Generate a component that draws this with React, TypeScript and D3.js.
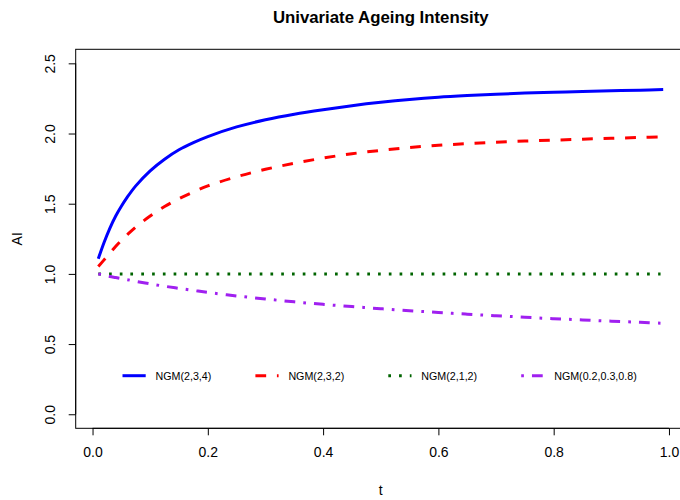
import React, { useEffect, useRef } from 'react';
import * as d3 from 'd3';

const tValues = [0.01, 0.02, 0.03, 0.04, 0.05, 0.06, 0.075, 0.1, 0.125, 0.15, 0.175, 0.2, 0.25, 0.3, 0.35, 0.4, 0.45, 0.5, 0.55, 0.6, 0.65, 0.7, 0.75, 0.8, 0.85, 0.9, 0.95, 0.99];
const ngm234 = [1.108, 1.224, 1.325, 1.411, 1.482, 1.545, 1.627, 1.734, 1.817, 1.884, 1.935, 1.978, 2.047, 2.098, 2.138, 2.170, 2.198, 2.222, 2.242, 2.258, 2.27, 2.28, 2.288, 2.294, 2.299, 2.304, 2.309, 2.313];
const ngm232 = [1.052, 1.10, 1.148, 1.195, 1.238, 1.278, 1.334, 1.412, 1.48, 1.536, 1.584, 1.627, 1.692, 1.745, 1.788, 1.825, 1.856, 1.88, 1.90, 1.916, 1.928, 1.938, 1.946, 1.953, 1.96, 1.966, 1.972, 1.976];
const ngm212 = [1, 1, 1, 1, 1, 1, 1, 1, 1, 1, 1, 1, 1, 1, 1, 1, 1, 1, 1, 1, 1, 1, 1, 1, 1, 1, 1, 1];
const ngmSmall = [1.0, 0.991, 0.982, 0.974, 0.966, 0.959, 0.947, 0.929, 0.912, 0.897, 0.882, 0.868, 0.843, 0.821, 0.801, 0.783, 0.767, 0.752, 0.738, 0.725, 0.713, 0.702, 0.691, 0.681, 0.672, 0.663, 0.655, 0.648];
const seriesNames = ['NGM(2,3,4)', 'NGM(2,3,2)', 'NGM(2,1,2)', 'NGM(0.2,0.3,0.8)'];
const xTicks = [0, 0.2, 0.4, 0.6, 0.8, 1.0];
const yTicks = [0, 0.5, 1.0, 1.5, 2.0, 2.5];

const u = 2.69; // dash unit (R lty scaled by lwd)
const styles = [
  { color: '#0000FF', dash: null },
  { color: '#FF0000', dash: `${4 * u},${4 * u}` },
  { color: '#006400', dash: `${u},${3 * u}` },
  { color: '#A020F0', dash: `${u},${3 * u},${4 * u},${3 * u}` },
];

const font = '"Liberation Sans", Arial, Helvetica, sans-serif';

const App = () => {
  const xAxisRef = useRef<SVGGElement>(null);
  const yAxisRef = useRef<SVGGElement>(null);

  const left = 75.7, right = 685.8, top = 49.3, bottom = 428.3;
  const x = d3.scaleLinear().domain([-0.0292, 1.0292]).range([left, right]);
  const y = d3.scaleLinear().domain([-0.1, 2.6]).range([bottom, top]);

  const allSeries = [ngm234, ngm232, ngm212, ngmSmall];
  const line = d3.line<number>()
    .x((_, i) => x(tValues[i]))
    .y(d => y(d))
    .curve(d3.curveCatmullRom.alpha(0.5));

  useEffect(() => {
    const gx = d3.select(xAxisRef.current);
    gx.selectAll('*').remove();
    gx.call(d3.axisBottom(x).tickValues(xTicks).tickSize(7).tickFormat(d3.format('.1f')));
    gx.select('.domain').attr('d', `M${x(0)},0H${x(1)}`).attr('stroke', '#000');
    gx.selectAll('.tick line').attr('stroke', '#000');
    gx.selectAll('.tick text')
      .attr('y', 29).attr('dy', 0)
      .style('font-size', '14px').style('font-family', font).attr('fill', '#000');

    const gy = d3.select(yAxisRef.current);
    gy.selectAll('*').remove();
    gy.call(d3.axisLeft(y).tickValues(yTicks).tickSize(7).tickFormat(d3.format('.1f')));
    gy.select('.domain').attr('d', `M0,${y(0)}V${y(2.5)}`).attr('stroke', '#000');
    gy.selectAll('.tick line').attr('stroke', '#000');
    gy.selectAll('.tick text')
      .attr('transform', 'rotate(-90)')
      .attr('x', 0).attr('y', -21).attr('dy', 0)
      .attr('text-anchor', 'middle')
      .style('font-size', '14px').style('font-family', font).attr('fill', '#000');
  }, []);

  const legendY = 375.7;
  const legendStarts = [122.5, 255.4, 388.3, 521.2];

  return (
    <svg width={680} height={500} style={{ position: 'absolute', left: 0, top: 0, background: '#fff' }}>
      <rect x={0} y={0} width={680} height={500} fill="#fff" />
      <text x={(left + right) / 2} y={22.7} textAnchor="middle" fontFamily={font} fontWeight="bold" fontSize={16.8}>
        Univariate Ageing Intensity
      </text>
      <defs>
        <clipPath id="plotClip">
          <rect x={left} y={top} width={right - left} height={bottom - top} />
        </clipPath>
      </defs>
      <g clipPath="url(#plotClip)">
        {allSeries.map((s, i) => (
          <path key={i} d={line(s) || ''} fill="none" stroke={styles[i].color} strokeWidth={3}
            strokeDasharray={styles[i].dash || undefined} strokeLinecap="butt" strokeLinejoin="round" />
        ))}
      </g>
      <rect x={left} y={top} width={right - left} height={bottom - top} fill="none" stroke="#000" strokeWidth={1} />
      <g ref={xAxisRef} transform={`translate(0,${bottom})`} />
      <g ref={yAxisRef} transform={`translate(${left},0)`} />
      <text x={(left + right) / 2} y={495} textAnchor="middle" fontFamily={font} fontSize={14}>t</text>
      <text transform={`translate(21.7,${(top + bottom) / 2}) rotate(-90)`} textAnchor="middle" fontFamily={font} fontSize={14}>AI</text>
      {seriesNames.map((name, i) => (
        <g key={name}>
          <line x1={legendStarts[i]} x2={legendStarts[i] + 23.2} y1={legendY} y2={legendY}
            stroke={styles[i].color} strokeWidth={3} strokeDasharray={styles[i].dash || undefined} />
          <text x={legendStarts[i] + 33} y={legendY} dominantBaseline="central" fontFamily={font} fontSize={10.7}>{name}</text>
        </g>
      ))}
    </svg>
  );
};

export default App;
